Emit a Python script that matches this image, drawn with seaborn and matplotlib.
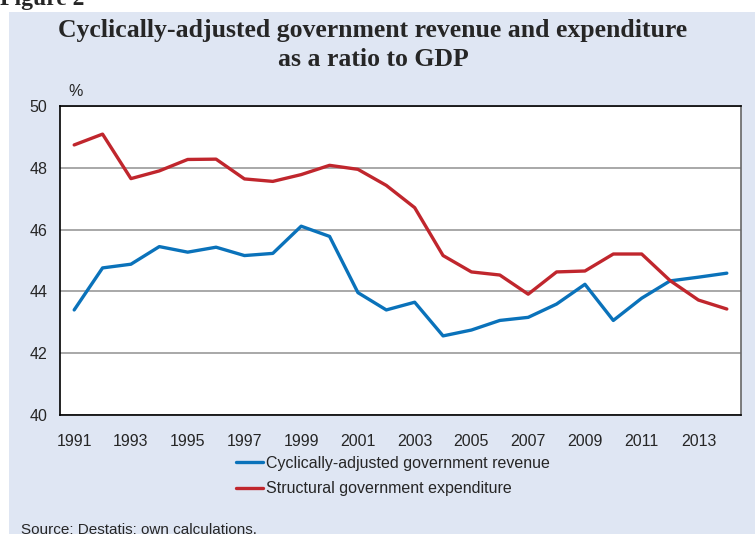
import numpy as np
import pandas as pd
import seaborn as sns
import matplotlib.pyplot as plt
from matplotlib.patches import Rectangle

# Data (% of GDP)
years = list(range(1991, 2015))
revenue = [43.40, 44.76, 44.88, 45.45, 45.27, 45.43, 45.16, 45.23, 46.11, 45.78,
           43.96, 43.40, 43.65, 42.56, 42.75, 43.06, 43.16, 43.59, 44.23, 43.06,
           43.78, 44.34, 44.46, 44.59]
expenditure = [48.74, 49.09, 47.65, 47.90, 48.27, 48.28, 47.64, 47.56, 47.78, 48.08,
               47.95, 47.43, 46.71, 45.16, 44.63, 44.53, 43.91, 44.63, 44.66, 45.21,
               45.21, 44.35, 43.72, 43.43]
series_names = ["Cyclically-adjusted government revenue",
                "Structural government expenditure"]
colors = ["#0a72ba", "#c0262d"]

df = pd.DataFrame({"year": years, series_names[0]: revenue,
                   series_names[1]: expenditure})
long_df = df.melt(id_vars="year", var_name="series", value_name="value")

sns.set_style("white")
plt.rcParams['font.family'] = ['Liberation Sans', 'DejaVu Sans']

fig = plt.figure(figsize=(7.55, 5.34), dpi=100)
fig.patch.set_facecolor("white")
# light blue panel behind the chart
fig.patches.append(Rectangle((9 / 755, 0), 1 - 9 / 755, 1 - 12 / 534,
                             transform=fig.transFigure, facecolor="#dfe6f3",
                             edgecolor="none", zorder=-5))

ax = fig.add_axes([60 / 755, 1 - 415 / 534, 681 / 755, 309 / 534])
ax.set_facecolor("white")

sns.lineplot(data=long_df, x="year", y="value", hue="series",
             palette=colors, linewidth=2.4, ax=ax, legend=True)

ax.set_xlim(1990.5, 2014.5)
ax.set_ylim(40, 50)
ax.set_yticks(np.arange(40, 51, 2))
ax.yaxis.grid(True, color="#999999", linewidth=1.2)
ax.set_axisbelow(True)

ax.set_xticks(range(1991, 2015, 2))
ax.set_xticks(np.arange(1990.5, 2015, 1), minor=True)
ax.tick_params(axis="x", which="major", length=0, labelsize=11.5, pad=14)
ax.tick_params(axis="x", which="minor", length=5, width=1, color="black",
               direction="out")
ax.tick_params(axis="y", length=5, width=1, color="black", direction="out",
               labelsize=11.5, pad=4)
ax.set_xlabel("")
ax.set_ylabel("")

for side in ["left", "bottom", "top"]:
    ax.spines[side].set_visible(True)
    ax.spines[side].set_color("black")
    ax.spines[side].set_linewidth(1.2)
ax.spines["right"].set_color("#666666")
ax.spines["right"].set_linewidth(1.2)

ax.text(76 / 755, 1 - 91 / 534, "%", transform=fig.transFigure,
        fontsize=11.5, ha="center", va="center")

leg = ax.legend(loc="upper left", bbox_to_anchor=(236 / 755, 1 - 456 / 534),
                bbox_transform=fig.transFigure, frameon=False, fontsize=11.5,
                handlelength=1.7, handletextpad=0.2, labelspacing=0.65,
                borderaxespad=0, borderpad=0)

title_kw = dict(fontsize=18.5, fontweight="bold", family="Liberation Serif",
                ha="center", va="center")
fig.text(373 / 755, 1 - 30 / 534,
         "Cyclically-adjusted government revenue and expenditure", **title_kw)
fig.text(373 / 755, 1 - 60 / 534, "as a ratio to GDP", **title_kw)
fig.text(0.0, 1.0, "Figure 2", fontsize=17, fontweight="bold",
         family="Liberation Serif", ha="left", va="center")
fig.text(21 / 755, 1 - 530 / 534, "Source: Destatis: own calculations.",
         fontsize=11, ha="left", va="center")

fig.savefig("out.png", dpi=100)
